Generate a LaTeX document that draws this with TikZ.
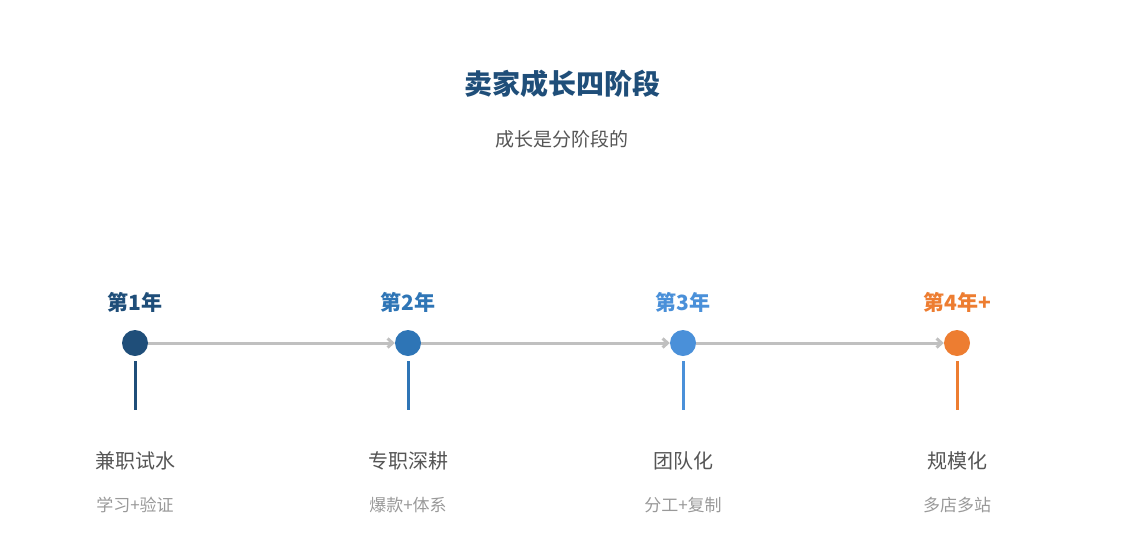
\documentclass[tikz,border=0pt]{standalone}
\usepackage{fontspec}
\setmainfont{Noto Sans CJK SC}
\usetikzlibrary{arrows.meta}
\definecolor{cA}{HTML}{1F4E79}
\definecolor{cB}{HTML}{2E75B6}
\definecolor{cC}{HTML}{4A90D9}
\definecolor{cD}{HTML}{ED7D31}
\definecolor{txt}{HTML}{555555}
\definecolor{sub}{HTML}{999999}
\definecolor{axis}{HTML}{C0C0C0}
\newcommand{\dotsize}{13pt}

\begin{document}
\begin{tikzpicture}[x=1pt,y=-1pt,
  dot/.style={circle, fill=#1, minimum size=2*\dotsize, inner sep=0pt},
  yeartext/.style={font=\fontsize{21}{21}\selectfont\bfseries, text=#1},
  stagetext/.style={font=\fontsize{20}{20}\selectfont, text=txt},
  notetext/.style={font=\fontsize{17}{17}\selectfont, text=sub},
  link/.style={draw=axis, line width=3pt, -{Straight Barb[length=5pt,width=9pt]}}]
\useasboundingbox (0,0) rectangle (1125,555);

          %%  title %%
      \node (title) at (562,84) [font=\fontsize{28}{28}\selectfont\bfseries, text=cA] {卖家成长四阶段};
      \node (subtitle) at (562,139) [font=\fontsize{19}{19}\selectfont, text=txt] {成长是分阶段的};

      \foreach \i/\x/\c/\y/\n/\s in {1/135/cA/第1年/兼职试水/学习+验证,
                                     2/408/cB/第2年/专职深耕/爆款+体系,
                                     3/683/cC/第3年/团队化/分工+复制,
                                     4/957/cD/第4年+/规模化/多店多站}
      { \node (d\i) at (\x,343) [dot=\c] {};
        \coordinate (t\i) at (\x,361);
        \coordinate (b\i) at (\x,410);
        \draw[\c, line width=3pt] (t\i) -- (b\i);
        \node (y\i) at (\x,302) [yeartext=\c] {\y};
        \node (n\i) at (\x,461) [stagetext] {\n};
        \node (s\i) at (\x,505) [notetext] {\s};}

      \draw[link] (d1) -- (d2);
      \draw[link] (d2) -- (d3);
      \draw[link] (d3) -- (d4);
        \end{tikzpicture}
\end{document}
